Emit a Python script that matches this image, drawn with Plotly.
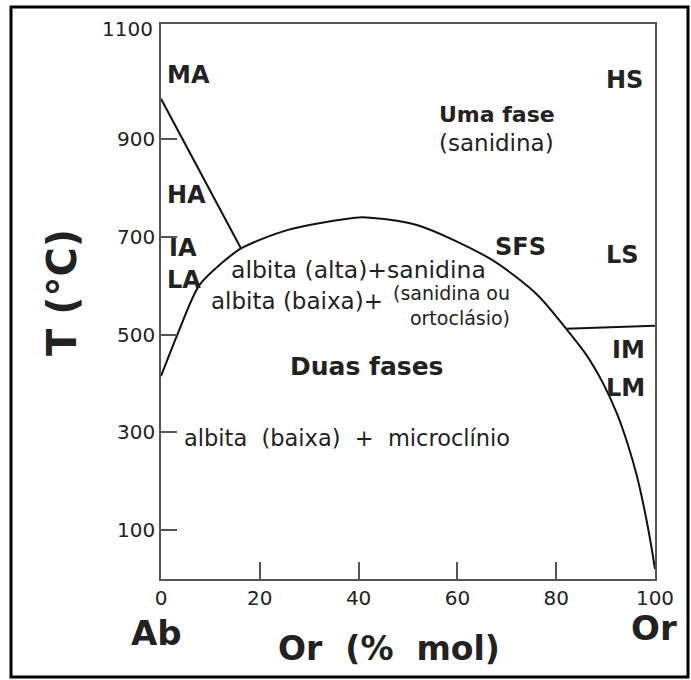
import plotly.graph_objects as go

# ---- data ----
solvus_or = [0, 3.4, 7.7, 12.3, 16.2, 25.7, 39.3, 42.3, 51.8, 66.6, 76.1, 82, 86, 89.5, 92.3, 94.5, 96.4, 98, 99.2, 100]
solvus_t = [415, 502, 600, 646, 676, 714, 739, 739, 724, 655, 582, 512, 460, 400, 338, 275, 208, 135, 70, 20]

ha_or = [0, 16.2]
ha_t = [982, 676]

ms_or = [82, 100]
ms_t = [512, 518]

x_ticks = [0, 20, 40, 60, 80, 100]
y_ticks = [100, 300, 500, 700, 900]
y_top_label = "1100"

# region labels: (text, Or, T, xanchor, size, bold)
labels = [
    ("MA", 0.8, 1031, "left", 24, True),
    ("HA", 0.8, 785, "left", 24, True),
    ("IA", 1.2, 677, "left", 24, True),
    ("LA", 0.8, 611, "left", 24, True),
    ("HS", 98.0, 1020, "right", 24, True),
    ("Uma fase", 68.0, 949, "center", 22, True),
    ("(sanidina)", 68.0, 892, "center", 23, False),
    ("SFS", 72.7, 679, "center", 24, True),
    ("LS", 93.5, 663, "center", 24, True),
    ("albita (alta)+sanidina", 39.9, 632, "center", 23.5, False),
    ("albita (baixa)+", 9.7, 568, "left", 23, False),
    ("Duas fases", 41.5, 434, "center", 25, True),
    ("albita  (baixa)  +  microclínio", 37.7, 288, "center", 22.5, False),
    ("IM", 98.4, 468, "right", 24, True),
    ("LM", 98.4, 391, "right", 24, True),
]
small_label = ("(sanidina ou<br>ortoclásio)", 71.0, 560)

FONT = "DejaVu Sans"
INK = "#222222"
AX = "#555555"

W, H = 691, 680
L, R, T, B = 161, 655, 24, 579


def px(x):
    return (x - L) / (R - L)


def py(y):
    return (B - y) / (B - T)


fig = go.Figure()
for xs, ys in [(solvus_or, solvus_t), (ha_or, ha_t), (ms_or, ms_t)]:
    fig.add_trace(go.Scatter(x=xs, y=ys, mode="lines",
                             line=dict(color="#111111", width=2, shape="spline", smoothing=0.8),
                             hoverinfo="skip", showlegend=False))

ann = []
for text, xo, yt, anchor, size, bold in labels:
    ann.append(dict(x=xo, y=yt, xref="x", yref="y", text=f"<b>{text}</b>" if bold else text,
                    showarrow=False, xanchor=anchor, yanchor="middle",
                    font=dict(family=FONT, size=size, color=INK)))
ann.append(dict(x=small_label[1], y=small_label[2], xref="x", yref="y", text=small_label[0],
                showarrow=False, xanchor="right", yanchor="middle", align="right",
                font=dict(family=FONT, size=19, color=INK)))

# axis-related texts placed in paper coords
ann.append(dict(x=px(155), y=py(29), xref="paper", yref="paper", text=y_top_label,
                showarrow=False, xanchor="right", yanchor="middle",
                font=dict(family=FONT, size=20, color=INK)))
ann.append(dict(x=px(62), y=py(293), xref="paper", yref="paper", text="<b>T (°C)</b>",
                showarrow=False, xanchor="center", yanchor="middle", textangle=-90,
                font=dict(family=FONT, size=40, color=INK)))
ann.append(dict(x=px(389), y=py(648), xref="paper", yref="paper", text="<b>Or  (%  mol)</b>",
                showarrow=False, xanchor="center", yanchor="middle",
                font=dict(family=FONT, size=33, color=INK)))
ann.append(dict(x=px(156), y=py(633), xref="paper", yref="paper", text="<b>Ab</b>",
                showarrow=False, xanchor="center", yanchor="middle",
                font=dict(family=FONT, size=34, color=INK)))
ann.append(dict(x=px(654), y=py(628), xref="paper", yref="paper", text="<b>Or</b>",
                showarrow=False, xanchor="center", yanchor="middle",
                font=dict(family=FONT, size=34, color=INK)))

fig.update_layout(
    width=W, height=H,
    margin=dict(l=L, r=W - R, t=T, b=H - B, pad=0),
    paper_bgcolor="white", plot_bgcolor="white",
    annotations=ann,
    shapes=[dict(type="rect", xref="paper", yref="paper",
                 x0=px(11), x1=px(688), y0=py(677), y1=py(7),
                 line=dict(color="black", width=3), fillcolor="rgba(0,0,0,0)", layer="above")],
    xaxis=dict(range=[0, 100], tickvals=x_ticks, ticktext=[str(v) for v in x_ticks],
               ticks="inside", ticklen=17, tickwidth=1.5, tickcolor=AX,
               showline=True, linecolor=AX, linewidth=1.5, mirror=True,
               showgrid=False, zeroline=False, fixedrange=True,
               tickfont=dict(family=FONT, size=20, color=INK)),
    yaxis=dict(range=[0, 1135], tickvals=y_ticks, ticktext=[str(v) for v in y_ticks],
               ticks="inside", ticklen=16, tickwidth=1.5, tickcolor=AX,
               showline=True, linecolor=AX, linewidth=1.5, mirror=True,
               showgrid=False, zeroline=False, fixedrange=True,
               tickfont=dict(family=FONT, size=20, color=INK)),
)

fig.write_html("out.html", config={"displayModeBar": False},
               post_script="document.body.style.margin='0';document.body.style.overflow='hidden';")
